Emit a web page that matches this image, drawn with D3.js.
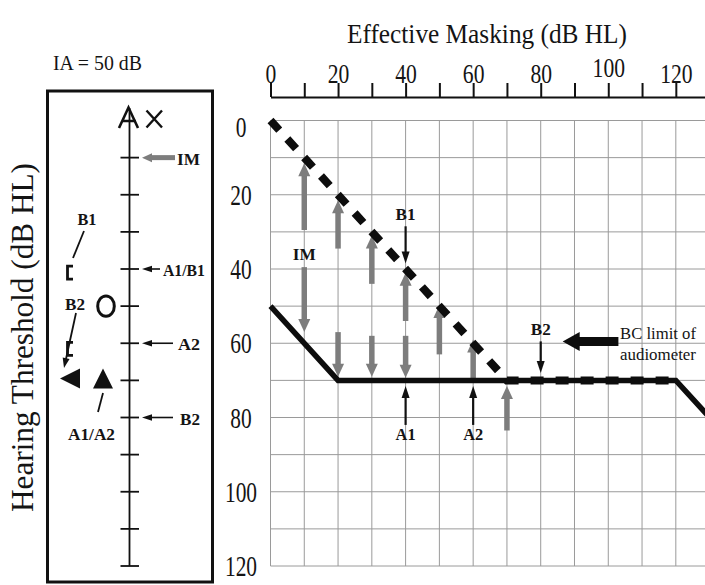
<!DOCTYPE html>
<html><head><meta charset="utf-8">
<script src="https://cdn.jsdelivr.net/npm/d3@7"></script>
<style>body{margin:0;background:#fff}svg{display:block}</style>
</head><body>
<svg id="c" width="705" height="585"></svg>
<script>
// ---------- data ----------
const xTicks = [0,10,20,30,40,50,60,70,80,90,100,110,120,130];
const xTickLabels = ["0","","20","","40","","60","","80","","100","","120",""];
const yTicks = [0,10,20,30,40,50,60,70,80,90,100,110,120];
const yTickLabels = ["0","","20","","40","","60","","80","","100","","120"];
const titleX = "Effective Masking (dB HL)";
const titleY = "Hearing Threshold (dB HL)";
const iaLabel = "IA = 50 dB";
// thresholds: [effective masking, hearing threshold]
const solidLine = [[0,50],[20,70],[120,70],[130,80]];
const dashedLine = [[0,0],[70,70],[120,70]];
// gray masking arrows [x, from, to]
const grayUp = [[10,29.5,11.5],[20,34.5,21.5],[30,44,31],[40,54,41],[50,63,49.7],[60,69.5,59],[70,83.5,71.5]];
const grayDown = [[10,39.5,57],[20,57,69],[30,58,69],[40,58,69.3]];
const imLabel = {text:"IM", x:10, y:36};
// black annotation arrows
const blackArrows = [
  {label:"B1", x:40, from:28.5, to:38.5},
  {label:"B2", x:80, from:59.5, to:68},
  {label:"A1", x:40, from:82, to:71.5},
  {label:"A2", x:60, from:82, to:71.5}
];
const bcLimit = {from:103, to:86.5, y:59.5, text:["BC limit of","audiometer"]};
// left panel
const panelTicks = [10,20,30,40,50,60,70,80,90,100,110,120];
const panelPointers = [
  {label:"IM", y:10, gray:true, w:23},
  {label:"A1/B1", y:40, w:42},
  {label:"A2", y:60, w:22},
  {label:"B2", y:80, w:20}
];
const bracketLevels = [41, 61.5];
const circleLevel = 50;
const triangleLevel = 70;

// ---------- setup ----------
const svg = d3.select("#c");
const FONT = '"Liberation Serif","Times New Roman",serif';
const x = d3.scaleLinear().domain([0,130]).range([270.5,709.6]);
const y = d3.scaleLinear().domain([0,120]).range([120.5,566]);

function txt(sel, px, py, s, o) {
  const t = sel.append("text").attr("x",px).attr("y",py).text(s)
    .attr("font-family",FONT).attr("font-size",o.size)
    .attr("text-anchor",o.anchor||"start")
    .attr("font-weight",o.weight||"normal").attr("fill","#141414");
  if (o.w) t.attr("textLength",o.w).attr("lengthAdjust","spacingAndGlyphs");
  if (o.rot) t.attr("transform",`rotate(${o.rot},${px},${py})`);
  return t;
}
function arrow(sel, x1,y1,x2,y2, o) {
  const dx=x2-x1, dy=y2-y1, L=Math.hypot(dx,dy), ux=dx/L, uy=dy/L;
  const bx=x2-ux*o.hl, by=y2-uy*o.hl, px=-uy, py=ux;
  sel.append("line").attr("x1",x1).attr("y1",y1).attr("x2",bx+ux*1).attr("y2",by+uy*1)
    .attr("stroke",o.color).attr("stroke-width",o.sw);
  sel.append("path").attr("d",`M${x2},${y2}L${bx+px*o.hw/2},${by+py*o.hw/2}L${bx-px*o.hw/2},${by-py*o.hw/2}Z`)
    .attr("fill",o.color);
}

// ---------- grid ----------
const grid = svg.append("g");
grid.selectAll(".v").data(xTicks).join("line")
  .attr("x1",d=>x(d)).attr("x2",d=>x(d)).attr("y1",y(0)).attr("y2",y(120))
  .attr("stroke","#9a9a9a").attr("stroke-width",1);
grid.selectAll(".h").data(yTicks).join("line")
  .attr("x1",x(0)).attr("x2",x(130)).attr("y1",d=>y(d)).attr("y2",d=>y(d))
  .attr("stroke","#9a9a9a").attr("stroke-width",1);

// ---------- top axis ----------
const ax = svg.append("g").attr("transform","translate(0,97)")
  .call(d3.axisTop(x).tickValues(xTicks).tickSize(14).tickSizeOuter(0).tickPadding(0)
    .tickFormat((d,i)=>xTickLabels[i]));
ax.select(".domain").attr("stroke","#111").attr("stroke-width",2.2);
ax.selectAll(".tick line").attr("stroke","#111").attr("stroke-width",2);
ax.selectAll(".tick text").attr("font-family",FONT).attr("font-size",27).attr("fill","#141414")
  .attr("dy",d=>d===100?-6:0)
  .each(function(d,i){ const s=xTickLabels[i]; if(s) d3.select(this).attr("textLength",10.8*s.length).attr("lengthAdjust","spacingAndGlyphs"); });
txt(svg, 487, 43, titleX, {size:27, anchor:"middle", w:280});

// ---------- left tick labels ----------
yTicks.forEach((d,i)=>{
  const s=yTickLabels[i]; if(!s) return;
  txt(svg, 241, y(d)+(d===0?16:10), s, {size:29, anchor:"middle", w:10.7*s.length});
});

// ---------- gray arrows ----------
const ga = svg.append("g");
const grayStyle = {color:"#7d7d7d", sw:5.5, hw:12, hl:13};
grayUp.concat(grayDown).forEach(a=>arrow(ga, x(a[0]), y(a[1]), x(a[0]), y(a[2]), grayStyle));
txt(svg, x(imLabel.x), y(imLabel.y)+6, imLabel.text, {size:17, anchor:"middle", weight:"bold", w:23});

// ---------- threshold lines ----------
const line = d3.line().x(d=>x(d[0])).y(d=>y(d[1]));
svg.append("path").attr("d",line(solidLine)).attr("fill","none")
  .attr("stroke","#0d0d0d").attr("stroke-width",5.5).attr("stroke-linejoin","miter");
svg.append("path").attr("d",line(dashedLine)).attr("fill","none")
  .attr("stroke","#0d0d0d").attr("stroke-width",8).attr("stroke-dasharray","13,12");

// ---------- black annotation arrows ----------
blackArrows.forEach(a=>{
  arrow(svg, x(a.x), y(a.from), x(a.x), y(a.to), {color:"#111", sw:2.2, hw:8, hl:12});
  const down = a.to > a.from;
  txt(svg, x(a.x), down ? y(a.from)-6 : y(a.from)+15, a.label, {size:17, anchor:"middle", weight:"bold", w:20});
});
arrow(svg, x(bcLimit.from), y(bcLimit.y), x(bcLimit.to), y(bcLimit.y), {color:"#0d0d0d", sw:9, hw:19, hl:17});
txt(svg, 620, 339, bcLimit.text[0], {size:17.5, w:76});
txt(svg, 620, 360, bcLimit.text[1], {size:17.5, w:76});

// ---------- left panel ----------
txt(svg, 53, 70, iaLabel, {size:22, w:89});
txt(svg, 33, 337.5, titleY, {size:31, anchor:"middle", rot:-90, w:349});
const lp = svg.append("g");
lp.append("rect").attr("x",47.5).attr("y",91).attr("width",165).attr("height",491)
  .attr("fill","none").attr("stroke","#111").attr("stroke-width",3);
lp.append("line").attr("x1",129.5).attr("x2",129.5).attr("y1",108).attr("y2",y(120))
  .attr("stroke","#111").attr("stroke-width",1.8);
lp.selectAll(".pt").data(panelTicks).join("line")
  .attr("x1",120.5).attr("x2",139).attr("y1",d=>y(d)).attr("y2",d=>y(d))
  .attr("stroke","#111").attr("stroke-width",1.8);
// "A" arrowhead and X at top
lp.append("path").attr("d","M119,128 L128.5,107.5 L138,128 M121.5,121 L136,121")
  .attr("fill","none").attr("stroke","#111").attr("stroke-width",2.6);
lp.append("path").attr("d","M146.5,110.5 L162,127.5 M162,110.5 L146.5,127.5")
  .attr("fill","none").attr("stroke","#111").attr("stroke-width",2.4);
// pointers
panelPointers.forEach(p=>{
  if (p.gray) arrow(lp, 175, y(p.y), 142, y(p.y), {color:"#7d7d7d", sw:5, hw:9, hl:10});
  else arrow(lp, p.label==="A1/B1"?160:173, y(p.y), 142, y(p.y), {color:"#111", sw:1.6, hw:6.5, hl:10});
  const lx = p.gray ? 177 : (p.label==="A1/B1"?163:(p.label==="A2"?178:180));
  txt(lp, lx, y(p.y)+7, p.label, {size:17, weight:"bold", w:p.w});
});
// symbols
bracketLevels.forEach(v=>{
  lp.append("path").attr("d",`M73,${y(v)-6.5}L67.5,${y(v)-6.5}L67.5,${y(v)+6.5}L73,${y(v)+6.5}`)
    .attr("fill","none").attr("stroke","#111").attr("stroke-width",2.8);
});
lp.append("ellipse").attr("cx",106).attr("cy",y(circleLevel)).attr("rx",8.3).attr("ry",10.2)
  .attr("fill","none").attr("stroke","#111").attr("stroke-width",3);
const ty = y(triangleLevel);
lp.append("path").attr("d",`M60,${ty-2}L80,${ty-12}L80,${ty+8}Z`).attr("fill","#111");
lp.append("path").attr("d",`M103,${ty-12}L113,${ty+8}L93,${ty+8}Z`).attr("fill","#111");
txt(lp, 87, 225, "B1", {size:17, weight:"bold", anchor:"middle", w:19});
lp.append("line").attr("x1",84).attr("y1",231).attr("x2",73).attr("y2",258).attr("stroke","#111").attr("stroke-width",1.8);
txt(lp, 75, 310, "B2", {size:17, weight:"bold", anchor:"middle", w:20});
arrow(lp, 76, 313, 64, 368, {color:"#111", sw:1.8, hw:7, hl:10});
lp.append("line").attr("x1",103).attr("y1",393).attr("x2",98).attr("y2",412).attr("stroke","#111").attr("stroke-width",1.8);
txt(lp, 91.5, 440, "A1/A2", {size:17, weight:"bold", anchor:"middle", w:47});
</script>
</body></html>
